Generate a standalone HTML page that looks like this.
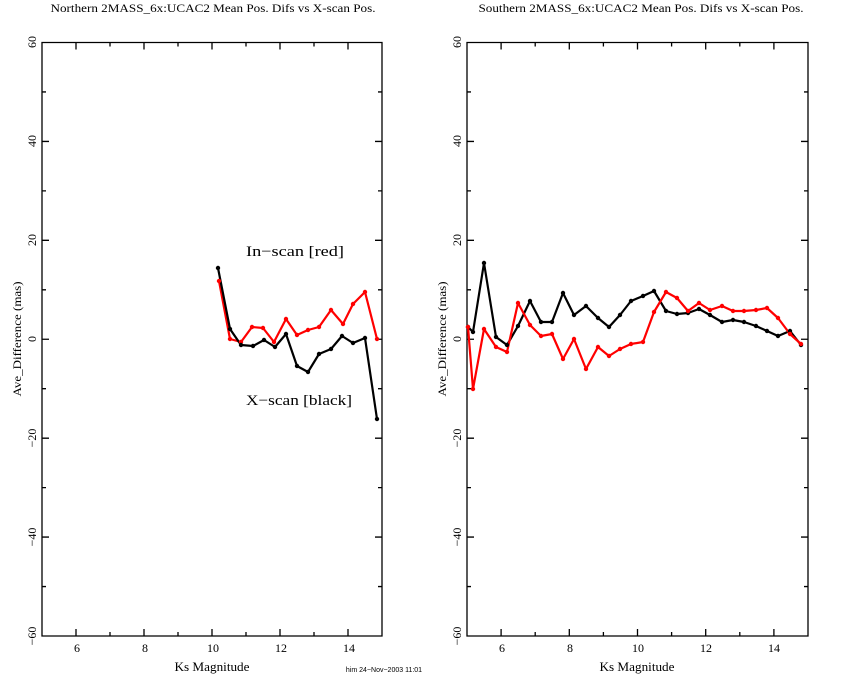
<!DOCTYPE html>
<html><head><meta charset="utf-8"><style>
html,body{margin:0;padding:0;background:#fff;}
svg{display:block;font-family:"Liberation Serif",serif;}
</style></head><body>
<svg id="s" width="850" height="680" viewBox="0 0 850 680" xmlns="http://www.w3.org/2000/svg">
<rect width="850" height="680" fill="#fff"/>
<g font-size="12" fill="#000">
<text x="213" y="12" text-anchor="middle" textLength="325" lengthAdjust="spacingAndGlyphs">Northern 2MASS_6x:UCAC2 Mean Pos. Difs vs X-scan Pos.</text>
<text x="641" y="12" text-anchor="middle" textLength="325" lengthAdjust="spacingAndGlyphs">Southern 2MASS_6x:UCAC2 Mean Pos. Difs vs X-scan Pos.</text>
<text x="212" y="671" text-anchor="middle" font-size="13" textLength="75" lengthAdjust="spacingAndGlyphs">Ks Magnitude</text>
<text x="637" y="671" text-anchor="middle" font-size="13" textLength="75" lengthAdjust="spacingAndGlyphs">Ks Magnitude</text>
<text x="384" y="672" text-anchor="middle" font-size="7" font-family="Liberation Sans,sans-serif">him 24−Nov−2003 11:01</text>
<text transform="translate(21,339) rotate(-90)" text-anchor="middle" font-size="12" textLength="115" lengthAdjust="spacingAndGlyphs">Ave_Difference (mas)</text>
<text transform="translate(446,339) rotate(-90)" text-anchor="middle" font-size="12" textLength="115" lengthAdjust="spacingAndGlyphs">Ave_Difference (mas)</text>
<text x="246" y="256" font-size="15" textLength="98" lengthAdjust="spacingAndGlyphs">In−scan [red]</text>
<text x="246" y="405" font-size="15" textLength="106" lengthAdjust="spacingAndGlyphs">X−scan [black]</text>
</g>
<g font-size="12" text-anchor="middle">
<text x="77" y="652">6</text><text x="145" y="652">8</text><text x="213" y="652">10</text><text x="281" y="652">12</text><text x="349" y="652">14</text>
<text x="502" y="652">6</text><text x="570" y="652">8</text><text x="638" y="652">10</text><text x="706" y="652">12</text><text x="774" y="652">14</text>
<g transform="translate(36,42) rotate(-90)"><text>60</text></g>
<g transform="translate(36,141) rotate(-90)"><text>40</text></g>
<g transform="translate(36,240) rotate(-90)"><text>20</text></g>
<g transform="translate(36,339) rotate(-90)"><text>0</text></g>
<g transform="translate(36,438) rotate(-90)"><text>−20</text></g>
<g transform="translate(36,537) rotate(-90)"><text>−40</text></g>
<g transform="translate(36,636) rotate(-90)"><text>−60</text></g>
<g transform="translate(461,42) rotate(-90)"><text>60</text></g>
<g transform="translate(461,141) rotate(-90)"><text>40</text></g>
<g transform="translate(461,240) rotate(-90)"><text>20</text></g>
<g transform="translate(461,339) rotate(-90)"><text>0</text></g>
<g transform="translate(461,438) rotate(-90)"><text>−20</text></g>
<g transform="translate(461,537) rotate(-90)"><text>−40</text></g>
<g transform="translate(461,636) rotate(-90)"><text>−60</text></g>
</g>
<g id="axes" fill="none" stroke="#000" stroke-width="1.3"></g>
<g id="lines" fill="none" stroke-width="2.2" stroke-linejoin="round">
<polyline stroke="#f00" points="219,281 230,339 241,342 252,327 263,328 274,342 286,319 297,335 308,330 319,327 331,310 343,324 353,304 365,292 377,339"/>
<polyline stroke="#000" points="218,268 230,329 241,345 253,346 264,340 275,347 286,334 297,366 308,372 319,354 331,349 342,336 353,343 365,338 377,419"/>
<polyline stroke="#000" points="468,327 473,332 484,263 496,337 507,345 518,326 530,301 541,322 552,322 563,293 574,315 586,306 598,318 609,327 620,315 631,301 643,296 654,291 666,311 677,314 688,313 699,309 710,315 722,322 733,320 744,322 756,326 767,331 778,336 790,331 801,345"/>
<polyline stroke="#f00" points="468,327 473,389 484,329 496,347 507,352 518,303 530,325 541,336 552,334 563,359 574,339 586,369 598,347 609,356 620,349 631,344 643,342 654,312 666,292 677,298 688,311 699,303 710,310 722,306 733,311 744,311 756,310 767,308 778,318 790,334 801,344"/>
</g>
<g id="marks"></g>
</svg>
<script>
var NS='http://www.w3.org/2000/svg';
var g=document.getElementById('axes'),d='';
[[42,382],[467,808]].forEach(function(b){
 var L=b[0],R=b[1],T=42.5,B=636,px=(R-L)/10;
 d+='M'+L+' '+T+'H'+R+'V'+B+'H'+L+'Z';
 for(var i=1;i<10;i++){var x=L+i*px,l=(i%2==1)?7:4;d+='M'+x+' '+B+'v-'+l+'M'+x+' '+T+'v'+l;}
 for(var j=1;j<12;j++){var y=T+j*(B-T)/12,l=(j%2==0)?7:4;d+='M'+L+' '+y+'h'+l+'M'+R+' '+y+'h-'+l;}
});
var p=document.createElementNS(NS,'path');p.setAttribute('d',d);g.appendChild(p);
var m=document.getElementById('marks');
document.querySelectorAll('#lines polyline').forEach(function(pl){
 var c=pl.getAttribute('stroke');
 pl.getAttribute('points').trim().split(/\s+/).forEach(function(pt){
  var a=pt.split(',');var e=document.createElementNS(NS,'circle');
  e.setAttribute('cx',a[0]);e.setAttribute('cy',a[1]);e.setAttribute('r','2.2');e.setAttribute('fill',c);m.appendChild(e);
 });
});
</script>
</body></html>
